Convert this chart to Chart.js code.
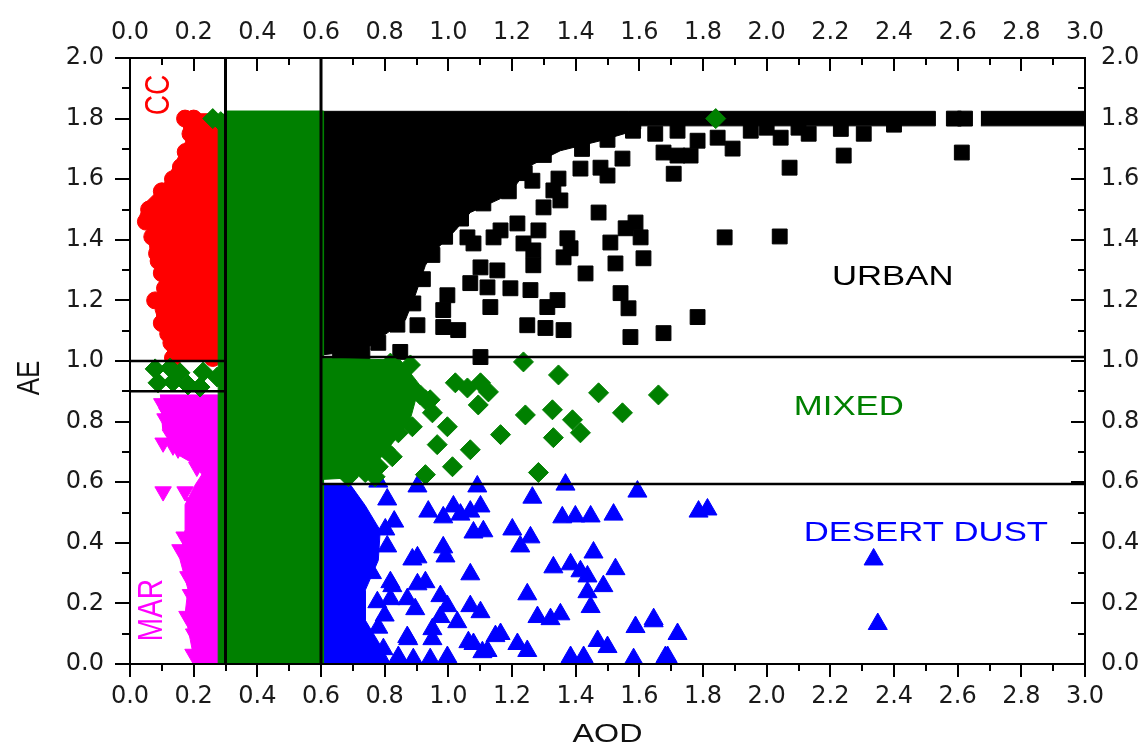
<!DOCTYPE html>
<html>
<head>
<meta charset="utf-8">
<title>AOD vs AE</title>
<script src="https://cdn.jsdelivr.net/npm/chart.js@4.4.0/dist/chart.umd.min.js"></script>
<style>
	html, body { margin: 0; padding: 0; background: #fff; }
	#wrap { width: 1146px; height: 754px; }
</style>
</head>
<body>
<div id="wrap"><canvas id="chart" width="1146" height="754"></canvas></div>
<script>
// tick values
var xTicks = [0.0, 0.2, 0.4, 0.6, 0.8, 1.0, 1.2, 1.4, 1.6, 1.8, 2.0, 2.2, 2.4, 2.6, 2.8, 3.0];
var yTicks = [0.0, 0.2, 0.4, 0.6, 0.8, 1.0, 1.2, 1.4, 1.6, 1.8, 2.0];

// class boundaries [AOD, AE]
var lineAod03 = [[0.3, 0], [0.3, 2.0]];
var lineAod06 = [[0.6, 0], [0.6, 2.0]];
var lineCcLow = [[0, 1.0], [0.3, 1.0]];
var lineMarTop = [[0, 0.9], [0.3, 0.9]];
var lineUrbanLow = [[0.6, 1.013], [3.0, 1.013]];
var lineDustTop = [[0.6, 0.594], [3.0, 0.594]];

// CC (clean continental) - dense outline + individual points
var ccCloud = [[0.164, 1.816], [0.267, 1.816], [0.283, 1.793], [0.283, 1.003], [0.132, 0.997], [0.110, 1.053],
	[0.094, 1.118], [0.079, 1.168], [0.094, 1.234], [0.094, 1.299], [0.063, 1.365], [0.057, 1.431], [0.031, 1.480],
	[0.047, 1.520], [0.104, 1.579], [0.142, 1.651], [0.176, 1.727], [0.164, 1.793]];
var ccPts = [[0.173, 1.80], [0.20, 1.80], [0.19, 1.75], [0.175, 1.69], [0.16, 1.64], [0.135, 1.60], [0.10, 1.56],
	[0.06, 1.50], [0.05, 1.46], [0.07, 1.41], [0.085, 1.355], [0.09, 1.33], [0.10, 1.29], [0.11, 1.24], [0.10, 1.20],
	[0.079, 1.20], [0.11, 1.15], [0.10, 1.125], [0.12, 1.09], [0.13, 1.06], [0.15, 1.03], [0.135, 1.01], [0.26, 1.01]];

// MAR (marine)
var marCloud = [[0.094, 0.888], [0.289, 0.888], [0.289, 0], [0.204, 0], [0.189, 0.082], [0.173, 0.164], [0.182, 0.247],
	[0.157, 0.345], [0.173, 0.444], [0.173, 0.526], [0.204, 0.590], [0.235, 0.640], [0.150, 0.691], [0.101, 0.773]];
var marPts = [[0.10, 0.86], [0.13, 0.87], [0.16, 0.87], [0.116, 0.83], [0.11, 0.81], [0.14, 0.79], [0.104, 0.73],
	[0.135, 0.72], [0.151, 0.71], [0.189, 0.71], [0.22, 0.68], [0.21, 0.65], [0.24, 0.63], [0.274, 0.615],
	[0.104, 0.569], [0.173, 0.569], [0.198, 0.533], [0.204, 0.467], [0.17, 0.42], [0.157, 0.378], [0.19, 0.34],
	[0.182, 0.289], [0.19, 0.23], [0.179, 0.158], [0.20, 0.10], [0.198, 0.033], [0.23, 0.02]];

// URBAN
var urbanCloud = [[0.601, 1.816], [1.604, 1.816], [1.604, 1.766], [1.478, 1.727], [1.352, 1.694], [1.258, 1.645],
	[1.211, 1.579], [1.164, 1.536], [1.069, 1.490], [1.022, 1.431], [0.959, 1.365], [0.928, 1.316], [0.896, 1.217],
	[0.865, 1.135], [0.786, 1.076], [0.739, 1.036], [0.601, 1.020]];
var urbanBand = [[0.6, 1.776], [2.53, 1.776], [2.53, 1.824], [0.6, 1.824]];
var urbanBandEnd = [[2.673, 1.776], [3.05, 1.776], [3.05, 1.824], [2.673, 1.824]];
var urbanPts = [[2.588, 1.80], [2.623, 1.80],
	[1.547, 1.668], [1.708, 1.618], [1.676, 1.688], [1.720, 1.678], [1.761, 1.678], [1.478, 1.638], [1.500, 1.612],
	[1.415, 1.635], [1.346, 1.602], [1.264, 1.595], [1.330, 1.563], [1.352, 1.530], [1.299, 1.507], [1.472, 1.490],
	[1.588, 1.457], [1.557, 1.438], [1.604, 1.408], [1.509, 1.391], [1.525, 1.322], [1.613, 1.339], [1.431, 1.289],
	[1.283, 1.431], [1.374, 1.405], [1.384, 1.372], [1.362, 1.342], [1.236, 1.388], [1.267, 1.365], [1.267, 1.316],
	[1.142, 1.408], [1.164, 1.431], [1.060, 1.408], [1.079, 1.388], [1.217, 1.454], [1.101, 1.309], [1.154, 1.299],
	[1.069, 1.257], [1.123, 1.243], [1.195, 1.240], [1.258, 1.234], [0.997, 1.217], [1.132, 1.178], [1.311, 1.178],
	[1.343, 1.201], [1.541, 1.224], [1.566, 1.174], [0.984, 1.168], [1.248, 1.118], [1.305, 1.109], [1.362, 1.102],
	[0.903, 1.118], [0.984, 1.112], [1.031, 1.102], [1.572, 1.079], [1.676, 1.092], [1.783, 1.145], [1.101, 1.013],
	[0.849, 1.030], [0.73, 1.02],
	[1.893, 1.701], [1.783, 1.727], [1.846, 1.737], [2.044, 1.737], [2.132, 1.750], [2.242, 1.678], [2.233, 1.766],
	[2.305, 1.750], [2.072, 1.638], [1.868, 1.408], [2.041, 1.411], [2.613, 1.688], [1.65, 1.75], [1.72, 1.76],
	[1.95, 1.76], [2.0, 1.77], [2.1, 1.77], [2.4, 1.78],
	[1.58, 1.76], [1.50, 1.73], [1.42, 1.70], [1.30, 1.68], [1.24, 1.62], [1.19, 1.56], [1.11, 1.52], [1.04, 1.47],
	[0.99, 1.41], [0.95, 1.35], [0.92, 1.27], [0.89, 1.19], [0.84, 1.12], [0.78, 1.06], [0.70, 1.03], [0.66, 1.02]];

// MIXED
var mixedBlock = [[0.277, 0], [0.277, 1.78], [0.3, 1.825], [0.608, 1.825], [0.608, 0]];
var mixedCloud = [[0.601, 1.010], [0.849, 1.003], [0.910, 0.921], [0.880, 0.806], [0.833, 0.740], [0.770, 0.658],
	[0.708, 0.615], [0.601, 0.609]];
var mixedPts = [[1.84, 1.80], [0.26, 1.80], [0.285, 1.79],
	[0.079, 0.974], [0.126, 0.977], [0.088, 0.928], [0.135, 0.931], [0.182, 0.921], [0.220, 0.914], [0.157, 0.961],
	[0.230, 0.964], [0.274, 0.947],
	[1.236, 0.997], [1.346, 0.954], [1.472, 0.895], [1.660, 0.888], [1.022, 0.928], [1.060, 0.911], [1.101, 0.928],
	[1.126, 0.898], [1.094, 0.855], [0.997, 0.783], [0.965, 0.724], [1.069, 0.707], [1.013, 0.651], [0.928, 0.625],
	[1.164, 0.757], [1.242, 0.822], [1.327, 0.839], [1.390, 0.806], [1.415, 0.763], [1.330, 0.747], [1.547, 0.829],
	[1.283, 0.632], [0.912, 0.888], [0.943, 0.872],
	[0.874, 0.905], [0.928, 0.872], [0.950, 0.829], [0.843, 0.763], [0.887, 0.783], [0.802, 0.707], [0.824, 0.684],
	[0.780, 0.651], [0.686, 0.618], [0.739, 0.632], [0.770, 0.618], [0.881, 0.987], [0.818, 0.993]];

// DESERT DUST
var dustCloud = [[0.604, 0.592], [0.692, 0.592], [0.739, 0.523], [0.786, 0.441], [0.780, 0.342], [0.739, 0.243],
	[0.739, 0.145], [0.786, 0.063], [0.818, 0], [0.604, 0]];
var dustPts = [[0.780, 0.602], [0.903, 0.586], [1.091, 0.586], [1.368, 0.592], [1.594, 0.569], [1.264, 0.549],
	[0.808, 0.543], [0.937, 0.503], [1.016, 0.520], [1.101, 0.520], [0.984, 0.484], [1.038, 0.493], [1.069, 0.503],
	[1.358, 0.484], [1.399, 0.487], [1.447, 0.487], [1.519, 0.493], [1.786, 0.503], [1.079, 0.434], [1.110, 0.438],
	[1.201, 0.444], [1.258, 0.418], [1.226, 0.388], [0.984, 0.385], [0.991, 0.355], [0.802, 0.444], [0.808, 0.388],
	[0.903, 0.352], [1.456, 0.368], [1.330, 0.319], [1.384, 0.329], [1.415, 0.306], [1.437, 0.289], [1.525, 0.313],
	[1.069, 0.296], [0.818, 0.270], [0.903, 0.263], [0.928, 0.270], [1.487, 0.257], [1.248, 0.230], [1.437, 0.237],
	[0.777, 0.204], [0.818, 0.214], [0.871, 0.214], [0.975, 0.224], [0.997, 0.191], [1.069, 0.191], [1.101, 0.171],
	[1.447, 0.188], [1.280, 0.155], [1.321, 0.148], [1.352, 0.164], [0.975, 0.155], [1.028, 0.138], [1.164, 0.099],
	[0.871, 0.089], [0.950, 0.082], [1.588, 0.122], [1.645, 0.141], [1.720, 0.099], [1.079, 0.066], [1.123, 0.043],
	[1.217, 0.066], [1.248, 0.043], [1.469, 0.076], [1.500, 0.056], [1.384, 0.023], [1.425, 0.023], [1.582, 0.016],
	[1.689, 0.023], [0.796, 0.049], [0.843, 0.023], [0.890, 0.016], [0.943, 0.016], [0.997, 0.023], [1.814, 0.510],
	[2.336, 0.345], [2.349, 0.132], [1.645, 0.148], [1.682, 0.023],
	[0.887, 0.345], [0.824, 0.257], [0.896, 0.181], [0.950, 0.115], [0.874, 0.082], [1.063, 0.072], [1.107, 0.039],
	[1.148, 0.092], [0.748, 0.039], [0.83, 0.47], [0.76, 0.30], [0.80, 0.16], [0.78, 0.12]];

// region names, anchored in data units
var regionLabels = [
	{ text: 'CC', x: 0.094, y: 1.878, color: '#ff0000', rotate: true },
	{ text: 'MAR', x: 0.069, y: 0.178, color: '#ff00ff', rotate: true },
	{ text: 'URBAN', x: 2.396, y: 1.277, color: '#000000', rotate: false },
	{ text: 'MIXED', x: 2.258, y: 0.848, color: '#008000', rotate: false },
	{ text: 'DESERT DUST', x: 2.5, y: 0.432, color: '#0000ff', rotate: false }
];

function toXY(arr) {
	return arr.map(function (p) { return { x: p[0], y: p[1] }; });
}

function cloud(arr, color, order) {
	return {
		type: 'line', data: toXY(arr), backgroundColor: color, borderColor: color, borderWidth: 1,
		fill: 'shape', pointRadius: 0, tension: 0, order: order
	};
}

function marks(arr, color, style, radius, rotation, order) {
	return {
		type: 'scatter', data: toXY(arr), backgroundColor: color, borderColor: color, borderWidth: 1,
		pointStyle: style, pointRadius: radius, rotation: rotation, order: order
	};
}

function boundary(arr, width) {
	return {
		type: 'line', data: toXY(arr), borderColor: '#000', borderWidth: width, fill: false,
		pointRadius: 0, order: 0
	};
}

function stretchText(ctx, text, x, y, color, size, rotate) {
	ctx.save();
	ctx.translate(x, y);
	ctx.scale(1.24, 1);
	if (rotate) ctx.rotate(-Math.PI / 2);
	ctx.font = size + 'px "Liberation Sans", Arial, sans-serif';
	ctx.fillStyle = color;
	ctx.textAlign = 'center';
	ctx.textBaseline = 'middle';
	ctx.fillText(text, 0, 0);
	ctx.restore();
}

// frame, major/minor ticks, region names and axis titles
var framePlugin = {
	id: 'frame',
	afterDatasetsDraw: function (chart) {
		var ctx = chart.ctx;
		var a = chart.chartArea;
		var sx = chart.scales.x;
		var sy = chart.scales.y;
		ctx.save();
		ctx.strokeStyle = '#000';
		ctx.lineWidth = 2;
		ctx.strokeRect(a.left, a.top, a.right - a.left, a.bottom - a.top);
		ctx.beginPath();
		for (var i = 0; i <= 30; i++) {
			var px = Math.round(sx.getPixelForValue(i / 10));
			var big = i % 2 === 0;
			ctx.moveTo(px, a.bottom);
			ctx.lineTo(px, a.bottom + (big ? 13 : 7));
			ctx.moveTo(px, a.top);
			ctx.lineTo(px, a.top + (big ? 13 : 7));
		}
		for (var j = 0; j <= 20; j++) {
			var py = Math.round(sy.getPixelForValue(j / 10));
			var bigY = j % 2 === 0;
			ctx.moveTo(a.left, py);
			ctx.lineTo(a.left - (bigY ? 15 : 8), py);
			ctx.moveTo(a.right, py);
			ctx.lineTo(a.right - (bigY ? 14 : 7), py);
		}
		ctx.stroke();
		ctx.restore();

		regionLabels.forEach(function (l) {
			stretchText(ctx, l.text, sx.getPixelForValue(l.x), sy.getPixelForValue(l.y), l.color, 28, l.rotate);
		});
		stretchText(ctx, 'AE', a.left - 100, a.top + 320, '#111', 26, true);
		stretchText(ctx, 'AOD', (a.left + a.right) / 2, a.bottom + 71, '#111', 26, false);
	}
};

function fixTicks(values) {
	return function (scale) {
		scale.ticks = values.map(function (v) { return { value: v }; });
	};
}

Chart.defaults.font.family = '"DejaVu Sans", sans-serif';
Chart.defaults.font.size = 24;
Chart.defaults.color = '#1a1a1a';

function tickOpts(pad) {
	return {
		font: { family: '"DejaVu Sans", sans-serif', size: 24 }, color: '#1a1a1a', padding: pad,
		maxRotation: 0, autoSkip: false,
		callback: function (v) { return v.toFixed(1); }
	};
}

new Chart(document.getElementById('chart'), {
	type: 'scatter',
	data: {
		datasets: [
			cloud(ccCloud, '#ff0000', 12),
			marks(ccPts, '#ff0000', 'circle', 8.5, 0, 11),
			cloud(marCloud, '#ff00ff', 12),
			marks(marPts, '#ff00ff', 'triangle', 9.5, 180, 11),
			cloud(urbanCloud, '#000000', 10),
			cloud(urbanBand, '#000000', 10),
			cloud(urbanBandEnd, '#000000', 10),
			marks(urbanPts, '#000000', 'rect', 10.5, 0, 9),
			cloud(dustCloud, '#0000ff', 8),
			marks(dustPts, '#0000ff', 'triangle', 11, 0, 7),
			cloud(mixedBlock, '#008000', 6),
			cloud(mixedCloud, '#008000', 6),
			marks(mixedPts, '#008000', 'rectRot', 10, 0, 5),
			boundary(lineAod03, 3),
			boundary(lineAod06, 3),
			boundary(lineCcLow, 2.5),
			boundary(lineMarTop, 2.5),
			boundary(lineUrbanLow, 2.5),
			boundary(lineDustTop, 2.5)
		]
	},
	options: {
		responsive: false,
		animation: false,
		layout: { padding: 0 },
		plugins: { legend: { display: false }, tooltip: { enabled: false } },
		scales: {
			x: {
				type: 'linear', position: 'bottom', min: 0, max: 3,
				afterBuildTicks: fixTicks(xTicks),
				afterFit: function (s) { s.height = 90; },
				ticks: tickOpts(18),
				grid: { display: false, drawTicks: false },
				border: { display: false }
			},
			x2: {
				type: 'linear', position: 'top', min: 0, max: 3,
				afterBuildTicks: fixTicks(xTicks),
				afterFit: function (s) { s.height = 58; },
				ticks: tickOpts(11),
				grid: { display: false, drawTicks: false },
				border: { display: false }
			},
			y: {
				type: 'linear', position: 'left', min: 0, max: 2,
				afterBuildTicks: fixTicks(yTicks),
				afterFit: function (s) { s.width = 130; },
				ticks: tickOpts(26),
				grid: { display: false, drawTicks: false },
				border: { display: false }
			},
			y2: {
				type: 'linear', position: 'right', min: 0, max: 2,
				afterBuildTicks: fixTicks(yTicks),
				afterFit: function (s) { s.width = 61; },
				ticks: tickOpts(16),
				grid: { display: false, drawTicks: false },
				border: { display: false }
			}
		}
	},
	plugins: [framePlugin]
});
</script>
</body>
</html>
